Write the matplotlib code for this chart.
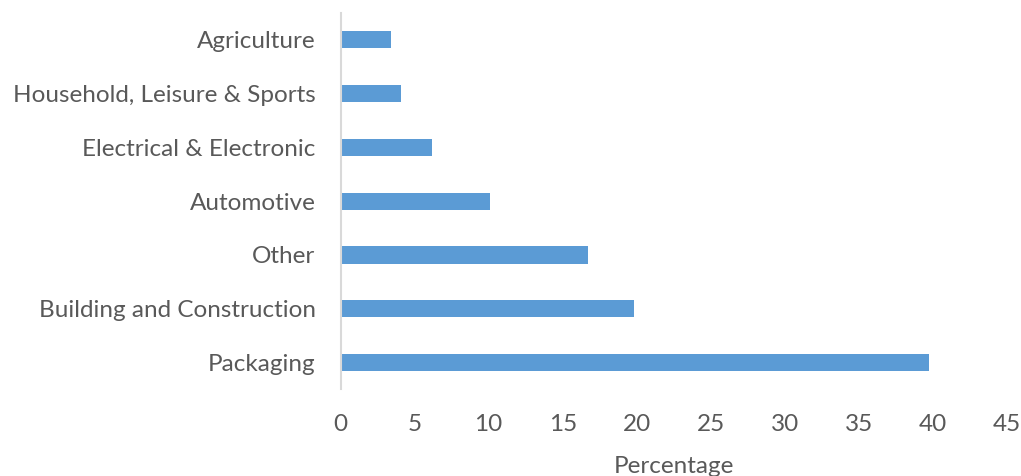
import matplotlib
matplotlib.use("Agg")
import matplotlib.pyplot as plt

categories = ["Packaging", "Building and Construction", "Other", "Automotive",
              "Electrical & Electronic", "Household, Leisure & Sports", "Agriculture"]
values = [39.7, 19.8, 16.7, 10.1, 6.2, 4.1, 3.4]
xticks = [0, 5, 10, 15, 20, 25, 30, 35, 40, 45]

plt.rcParams['font.family'] = ['Lato', 'DejaVu Sans']
fig = plt.figure(figsize=(10.21, 4.76), dpi=100)
ax = fig.add_axes([0.3335, 0.182, 0.6528, 0.7907])

ypos = list(range(len(categories)))
ax.barh(ypos, values, height=0.32, color="#5B9BD5", zorder=2)
ax.set_ylim(-0.5, len(categories) - 0.5)
ax.set_xlim(0, 45)
ax.set_yticks(ypos)
ax.set_yticklabels(categories)
ax.set_xticks(xticks)
ax.set_xticklabels([str(t) for t in xticks])
ax.tick_params(axis='both', length=0, labelsize=17.5, colors="#595959")
ax.tick_params(axis='y', pad=18)
ax.tick_params(axis='x', pad=17.5)
for s in ["top", "right", "bottom"]:
    ax.spines[s].set_visible(False)
ax.spines["left"].set_color("#D9D9D9")
ax.spines["left"].set_linewidth(1.5)
ax.set_xlabel("Percentage", fontsize=17.5, color="#595959")
ax.xaxis.set_label_coords(0.5, -0.176)

fig.savefig("out.png", dpi=100)
